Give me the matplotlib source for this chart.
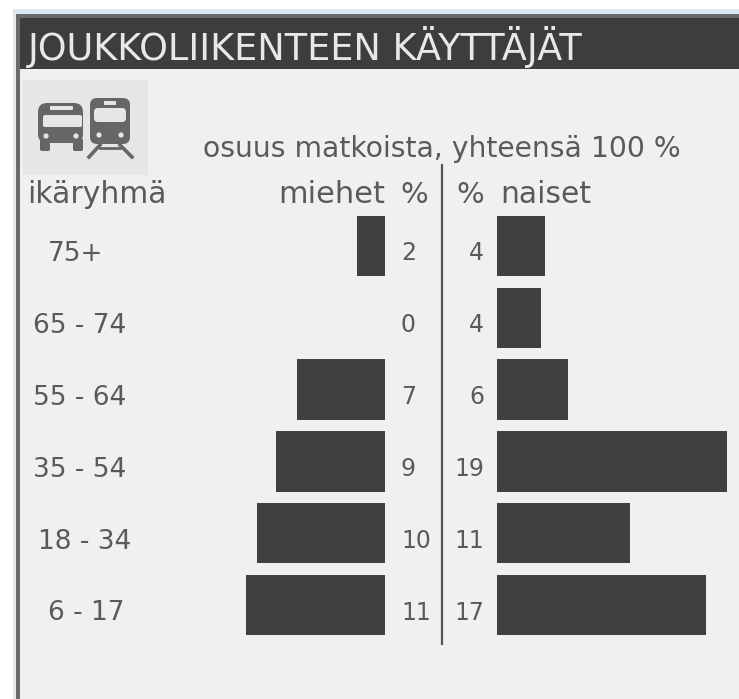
import matplotlib
matplotlib.use("Agg")
import matplotlib.pyplot as plt
from matplotlib.patches import Rectangle, FancyBboxPatch, Circle

age_groups = ["75+", "65 - 74", "55 - 64", "35 - 54", "18 - 34", "6 - 17"]
men_bar = [2.3, 0, 7.3, 9.0, 10.6, 11.5]
women_bar = [4.0, 3.6, 5.9, 19.0, 11.0, 17.3]
men_labels = ["2", "0", "7", "9", "10", "11"]
women_labels = ["4", "4", "6", "19", "11", "17"]
title = "JOUKKOLIIKENTEEN KÄYTTÄJÄT"
subtitle = "osuus matkoista, yhteensä 100 %"

W, H = 739, 699
BG, DARK, TXT, FONT = "#f0f0f0", "#404040", "#5a5a5a", "DejaVu Sans"
fig = plt.figure(figsize=(W / 100, H / 100), dpi=100, facecolor="white")

ov = fig.add_axes([0, 0, 1, 1])
ov.set_xlim(0, W); ov.set_ylim(H, 0); ov.axis("off")
ov.add_patch(Rectangle((13, 9), W, H, fc="#dde8f0", ec="none"))
ov.add_patch(Rectangle((16, 14), W, H, fc="#6a6a6a", ec="none"))
ov.add_patch(Rectangle((20, 18), W, 51, fc="#3d3d3d", ec="none"))
ov.add_patch(Rectangle((20, 69), W, H, fc=BG, ec="none"))
ov.add_patch(Rectangle((23, 80), 125, 95, fc="#e6e6e6", ec="none"))

ICON, LIGHT = "#666666", "#e6e6e6"
def rr(x, y, w, h, fc, r=3):
    ov.add_patch(FancyBboxPatch((x + r, y + r), w - 2 * r, h - 2 * r,
                                boxstyle=f"round,pad={r}", fc=fc, ec="none"))
# bus
rr(38, 103, 45, 40, ICON, 9)
rr(40, 138, 10, 13, ICON, 2); rr(73, 138, 10, 13, ICON, 2)
rr(50, 106, 23, 4, LIGHT, 1); rr(43, 115, 39, 12, LIGHT, 2)
for cx in (46, 76):
    ov.add_patch(Circle((cx, 136), 2.6, fc=LIGHT, ec="none"))
# train
rr(90, 98, 40, 46, ICON, 7)
rr(104, 101, 12, 4, LIGHT, 1); rr(94, 108, 32, 14, LIGHT, 4)
for cx in (99, 121):
    ov.add_patch(Circle((cx, 135), 2.6, fc=LIGHT, ec="none"))
ov.plot([100, 89], [145, 157], color=ICON, lw=2.6)
ov.plot([120, 132], [145, 157], color=ICON, lw=2.6)
ov.plot([100, 120], [148, 148], color=ICON, lw=2)

ov.plot([442, 442], [165, 644], color="#555555", lw=1.6)

t = dict(family=FONT, color=TXT, ha="left", va="baseline")
ov.text(28, 60, title, family=FONT, color="#e8e8e8", fontsize=26.4, va="baseline")
ov.text(203, 157, subtitle, fontsize=20.3, **t)
ov.text(27, 203, "ikäryhmä", fontsize=21.5, **t)
ov.text(278, 203, "miehet", fontsize=22, **t)
ov.text(400, 203, "%", fontsize=21, **t)
ov.text(456, 203, "%", fontsize=21, **t)
ov.text(500, 203, "naiset", fontsize=21.5, **t)

UNIT, ROW = 12.1, 71.9
TOP, BOT = 210, 642
def bar_axes(x0, x1):
    ax = fig.add_axes([x0 / W, 1 - BOT / H, (x1 - x0) / W, (BOT - TOP) / H])
    ax.axis("off"); ax.patch.set_alpha(0)
    ax.set_ylim(5 + (BOT - 605) / ROW, 0 - (246 - TOP) / ROW)
    return ax
ax_m = bar_axes(385 - 12 * UNIT, 385)
ax_m.set_xlim(12, 0)
ax_w = bar_axes(497, 497 + 20 * UNIT)
ax_w.set_xlim(0, 20)
ys = range(len(age_groups))
ax_m.barh(ys, men_bar, height=0.84, color=DARK)
ax_w.barh(ys, women_bar, height=0.84, color=DARK)

age_x = [48, 33, 33, 33, 38, 48]
for i, g in enumerate(age_groups):
    yc = 246 + ROW * i + 15
    ov.text(age_x[i], yc, g, family=FONT, color=TXT, fontsize=19, ha="left", va="baseline")
    ov.text(401, yc - 1, men_labels[i], family=FONT, color=TXT, fontsize=17, ha="left", va="baseline")
    ov.text(484, yc - 1, women_labels[i], family=FONT, color=TXT, fontsize=17, ha="right", va="baseline")

fig.savefig("out.png", dpi=100, facecolor="white")
